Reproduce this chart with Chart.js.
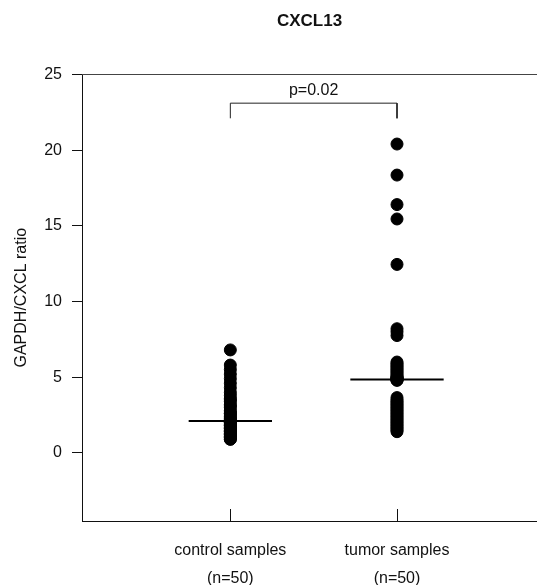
<!DOCTYPE html>
<html>
<head>
<meta charset="utf-8">
<script src="https://cdn.jsdelivr.net/npm/chart.js@4"></script>
<style>
  html, body { margin: 0; padding: 0; overflow: hidden; background: #fff; }
  #wrap { width: 537px; height: 585px; }
  canvas { display: block; }
</style>
</head>
<body>
<div id="wrap"><canvas id="cxclChart"></canvas></div>
<script>
// CXCL13 dot plot: control vs tumor

const groups = ['control samples', 'tumor samples'];
const groupN = ['(n=50)', '(n=50)'];
const yTicks = [0, 5, 10, 15, 20, 25];

const controlValues = [
  6.8, 5.8, 5.5, 5.2, 4.9, 4.6, 4.3, 4.0, 3.8, 3.6,
  3.5, 3.4, 3.2, 3.1, 3.0, 2.8, 2.7, 2.6, 2.6, 2.5,
  2.4, 2.3, 2.3, 2.2, 2.1, 2.1, 2.0, 2.0, 1.9, 1.9,
  1.8, 1.8, 1.7, 1.7, 1.6, 1.6, 1.5, 1.5, 1.4, 1.4,
  1.3, 1.3, 1.2, 1.2, 1.1, 1.1, 1.0, 1.0, 0.9, 0.9
];
const tumorValues = [
  20.4, 18.35, 16.4, 15.45, 12.45, 8.2, 8.0, 7.75, 6.0, 5.9,
  5.8, 5.7, 5.6, 5.5, 5.4, 5.3, 5.2, 5.1, 5.0, 5.0,
  4.95, 4.9, 4.9, 4.85, 4.85, 4.8, 4.8, 3.65, 3.5, 3.4,
  3.3, 3.2, 3.1, 3.0, 2.9, 2.8, 2.7, 2.6, 2.5, 2.4,
  2.3, 2.2, 2.1, 2.0, 1.9, 1.8, 1.7, 1.6, 1.5, 1.4
];
const medians = [2.1, 4.85];
const pValue = 'p=0.02';
const bracketY = [22.1, 23.1]; // leg bottom, bar top

const FONT = "'Liberation Sans', Arial, sans-serif";
Chart.defaults.font.family = FONT;
Chart.defaults.color = '#111';

const medianHalf = [0.25, 0.28];

const datasets = [
  {
    type: 'scatter',
    data: controlValues.map(v => ({ x: 1, y: v })),
    backgroundColor: '#000', borderColor: '#000', pointRadius: 6, pointHoverRadius: 6
  },
  {
    type: 'scatter',
    data: tumorValues.map(v => ({ x: 2, y: v })),
    backgroundColor: '#000', borderColor: '#000', pointRadius: 6, pointHoverRadius: 6
  }
];
medians.forEach((m, i) => {
  datasets.push({
    type: 'line',
    data: [{ x: i + 1 - medianHalf[i], y: m }, { x: i + 1 + medianHalf[i], y: m }],
    borderColor: '#000', borderWidth: 2, pointRadius: 0, showLine: true
  });
});
// significance bracket
datasets.push({
  type: 'line',
  data: [
    { x: 1, y: bracketY[0] }, { x: 1, y: bracketY[1] },
    { x: 2, y: bracketY[1] }, { x: 2, y: bracketY[0] }
  ],
  borderColor: '#222', borderWidth: 1, pointRadius: 0, showLine: true, tension: 0
});

// frame top line, inward x ticks and p-value text
const extras = {
  id: 'extras',
  afterDatasetsDraw(chart) {
    const { ctx, chartArea, scales } = chart;
    const x = scales.x, y = scales.y;
    ctx.save();
    ctx.strokeStyle = '#444';
    ctx.lineWidth = 1;
    ctx.beginPath();
    ctx.moveTo(chartArea.left, Math.round(chartArea.top) + 0.5);
    ctx.lineTo(chartArea.right, Math.round(chartArea.top) + 0.5);
    ctx.stroke();

    ctx.strokeStyle = '#111';
    groups.forEach((g, i) => {
      const px = Math.round(x.getPixelForValue(i + 1)) + 0.5;
      ctx.beginPath();
      ctx.moveTo(px, chartArea.bottom);
      ctx.lineTo(px, chartArea.bottom - 12);
      ctx.stroke();
    });

    ctx.fillStyle = '#111';
    ctx.font = '16px ' + FONT;
    ctx.textAlign = 'center';
    ctx.textBaseline = 'middle';
    ctx.fillText(pValue, x.getPixelForValue(1.5), y.getPixelForValue(23.9));
    ctx.restore();
  }
};

new Chart(document.getElementById('cxclChart'), {
  data: { datasets },
  options: {
    responsive: true,
    maintainAspectRatio: false,
    animation: false,
    layout: { autoPadding: false, padding: 0 },
    plugins: {
      legend: { display: false },
      tooltip: { enabled: false },
      title: {
        display: true,
        text: 'CXCL13',
        fullSize: false,
        color: '#111',
        font: { size: 17, weight: 'bold' },
        padding: { top: 11, bottom: 43 }
      }
    },
    scales: {
      x: {
        type: 'linear',
        min: 0.11,
        max: 2.84,
        afterBuildTicks: s => { s.ticks = groups.map((g, i) => ({ value: i + 1 })); },
        afterFit: s => { s.height = 64; s.paddingLeft = 0; s.paddingRight = 0; },
        ticks: {
          callback: v => [groups[v - 1], groupN[v - 1]],
          font: { size: 16, lineHeight: 1.75 },
          color: '#111',
          padding: 16,
          maxRotation: 0
        },
        grid: { drawOnChartArea: false, drawTicks: false },
        border: { display: true, color: '#111', width: 1 }
      },
      y: {
        type: 'linear',
        min: -4.5,
        max: 25,
        afterBuildTicks: s => { s.ticks = yTicks.map(v => ({ value: v })); },
        afterFit: s => { s.width = 82; },
        ticks: { font: { size: 16 }, color: '#111', padding: 10 },
        grid: { drawOnChartArea: false, drawTicks: true, tickLength: 10, color: '#111' },
        border: { display: true, color: '#111', width: 1 },
        title: {
          display: true,
          text: 'GAPDH/CXCL ratio',
          font: { size: 16 },
          color: '#111',
          padding: { top: 12, bottom: 0 }
        }
      }
    }
  },
  plugins: [extras]
});
</script>
</body>
</html>
